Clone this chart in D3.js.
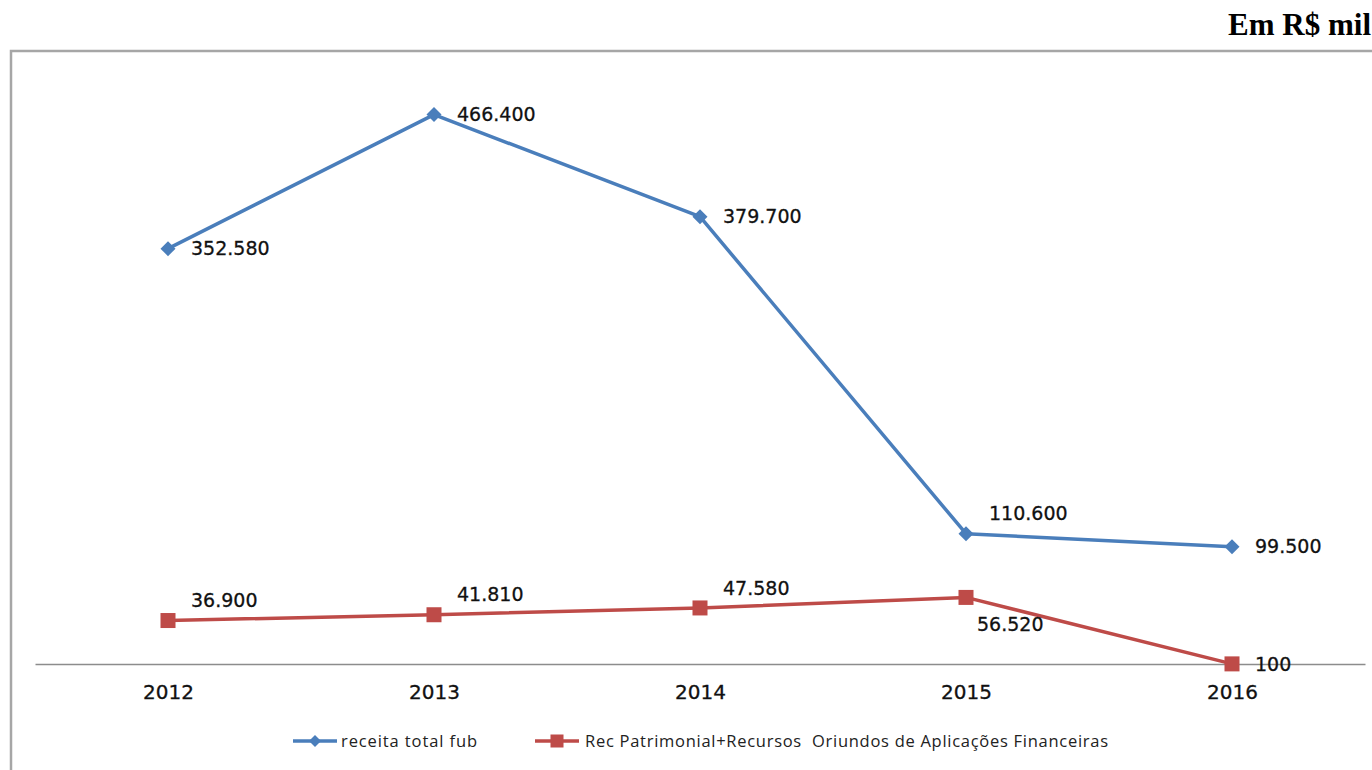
<!DOCTYPE html>
<html>
<head>
<meta charset="utf-8">
<script src="https://cdn.jsdelivr.net/npm/d3@7"></script>
<style>
  html, body { margin: 0; padding: 0; background: #fff; }
  svg { display: block; }
</style>
</head>
<body>
<svg id="chart" width="1372" height="770"></svg>
<script>
const categories = ["2012", "2013", "2014", "2015", "2016"];
const receitaTotal = [352580, 466400, 379700, 110600, 99500];
const recPatrimonial = [36900, 41810, 47580, 56520, 100];
const seriesNames = ["receita total fub", "Rec Patrimonial+Recursos  Oriundos de Aplicações Financeiras"];
const unitTitle = "Em R$ mil";
const yMax = 500000;

// label placement per point (where the data label sits relative to its marker)
const placeBlue = ["right", "right", "right", "aboveRight", "right"];
const placeRed = ["aboveRight", "aboveRight", "aboveRight", "belowRight", "right"];

const svg = d3.select("#chart");
const W = 1372, H = 770;
const plot = { left: 35, right: 1365, top: 75, bottom: 664 };

const fmt = v => d3.format(",")(v).replace(/,/g, ".");

// outer border
svg.append("rect")
  .attr("x", 11).attr("y", 51)
  .attr("width", W + 10).attr("height", H)
  .attr("fill", "none").attr("stroke", "#a6a6a6").attr("stroke-width", 2.5);

// title
svg.append("text")
  .attr("x", 1371).attr("y", 35)
  .attr("text-anchor", "end")
  .attr("font-family", "Liberation Serif, Times New Roman, serif")
  .attr("font-weight", "bold")
  .attr("font-size", 31)
  .attr("fill", "#000")
  .text(unitTitle);

const x = d3.scalePoint().domain(categories).range([plot.left, plot.right]).padding(0.5);
const y = d3.scaleLinear().domain([0, yMax]).range([plot.bottom, plot.top]);

// x axis
const xAxis = d3.axisBottom(x).tickSize(0).tickPadding(21);
const gx = svg.append("g").attr("transform", `translate(0,${plot.bottom})`).call(xAxis);
gx.select(".domain").attr("stroke", "#8c8c8c").attr("stroke-width", 1.3);
gx.selectAll("text")
  .attr("font-family", "DejaVu Sans, sans-serif")
  .attr("font-size", 20)
  .attr("fill", "#111")
  .attr("stroke", "#111").attr("stroke-width", 0.3);

const series = [
  { values: receitaTotal, color: "#4a7ebb", marker: "diamond", place: placeBlue },
  { values: recPatrimonial, color: "#be4b48", marker: "square", place: placeRed }
];

const line = d3.line().x((d, i) => x(categories[i])).y(d => y(d));

function drawMarker(g, type, cx, cy, color, s) {
  if (type === "diamond") {
    g.append("path")
      .attr("d", `M${cx},${cy - s}L${cx + s},${cy}L${cx},${cy + s}L${cx - s},${cy}Z`)
      .attr("fill", color);
  } else {
    g.append("rect")
      .attr("x", cx - s).attr("y", cy - s)
      .attr("width", 2 * s).attr("height", 2 * s)
      .attr("fill", color);
  }
}

const offsets = {
  right: { dx: 23, dy: 0 },
  aboveRight: { dx: 23, dy: -20 },
  belowRight: { dx: 11, dy: 27 }
};

series.forEach(s => {
  svg.append("path")
    .datum(s.values)
    .attr("d", line)
    .attr("fill", "none")
    .attr("stroke", s.color)
    .attr("stroke-width", 3.5)
    .attr("stroke-linejoin", "round");
});

series.forEach(s => {
  const g = svg.append("g");
  s.values.forEach((v, i) => {
    const cx = x(categories[i]), cy = y(v);
    drawMarker(g, s.marker, cx, cy, s.color, 7.5);
  });
});

series.forEach(s => {
  s.values.forEach((v, i) => {
    const cx = x(categories[i]), cy = y(v);
    const o = offsets[s.place[i]];
    svg.append("text")
      .attr("x", cx + o.dx).attr("y", cy + o.dy)
      .attr("dy", "0.35em")
      .attr("font-family", "DejaVu Sans, sans-serif")
      .attr("font-size", 19)
      .attr("fill", "#111")
      .attr("stroke", "#111").attr("stroke-width", 0.3)
      .text(fmt(v));
  });
});

// legend
const legendItems = [
  { name: seriesNames[0], color: series[0].color, marker: "diamond", x0: 293, tx: 341, tw: 136 },
  { name: seriesNames[1], color: series[1].color, marker: "square", x0: 535, tx: 585, tw: 523 }
];
const ly = 741;
legendItems.forEach(it => {
  const g = svg.append("g");
  g.append("line")
    .attr("x1", it.x0).attr("x2", it.x0 + 44)
    .attr("y1", ly).attr("y2", ly)
    .attr("stroke", it.color).attr("stroke-width", 3.5);
  drawMarker(g, it.marker, it.x0 + 22, ly, it.color, it.marker === "diamond" ? 6 : 6.5);
  g.append("text")
    .attr("x", it.tx).attr("y", ly)
    .attr("dy", "0.35em")
    .attr("font-family", "Open Sans, sans-serif")
    .attr("font-size", 16.5)
    .attr("fill", "#222")
    .attr("textLength", it.tw)
    .attr("lengthAdjust", "spacing")
    .style("white-space", "pre")
    .text(it.name);
});
</script>
</body>
</html>
